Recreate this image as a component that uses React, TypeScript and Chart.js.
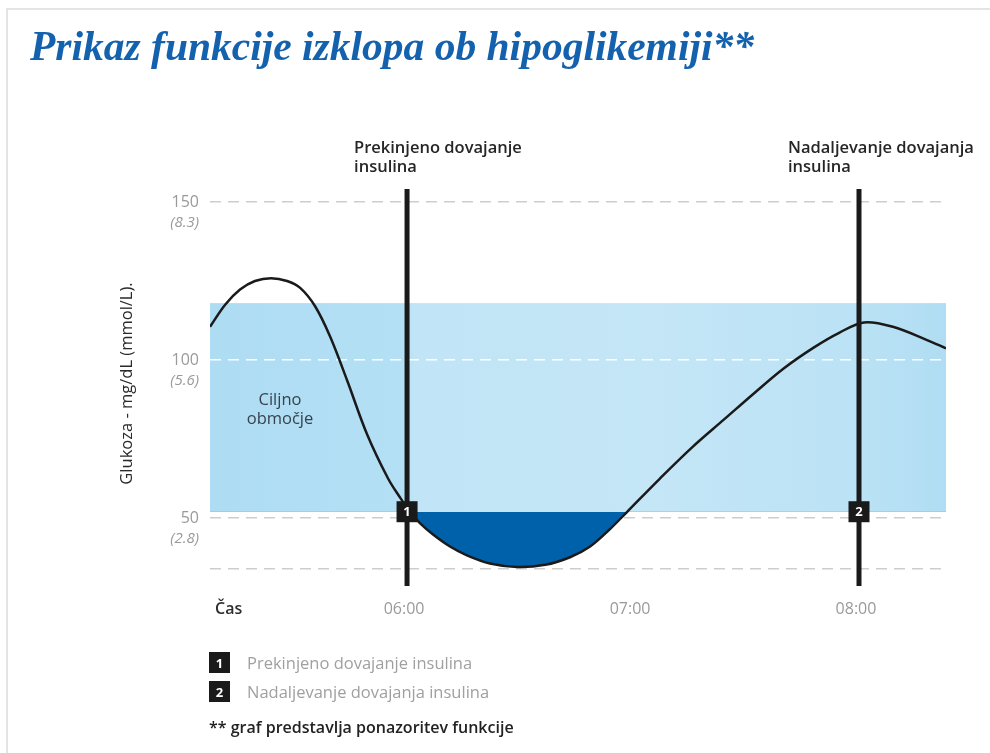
import React, { useEffect, useRef } from 'react';
import { Chart, registerables } from 'chart.js';

Chart.register(...registerables);

// ---- data ----
const timeHours = [5.128, 5.195, 5.261, 5.327, 5.398, 5.469, 5.527, 5.593, 5.659, 5.735, 5.823, 5.916, 5.969, 6.013, 6.058, 6.115, 6.19, 6.265, 6.367, 6.487, 6.611, 6.721, 6.81, 6.898, 6.973, 7.119, 7.265, 7.403, 7.536, 7.668, 7.801, 7.912, 8.022, 8.15, 8.301, 8.385];
const glucose = [110.5, 117.5, 122.3, 125.0, 125.9, 125.0, 122.8, 117.0, 107.5, 93.5, 76.5, 62.5, 56.5, 52.0, 48.3, 44.8, 41.0, 38.2, 35.6, 34.5, 35.2, 37.6, 41.0, 46.5, 51.9, 62.5, 72.6, 81.2, 89.5, 97.4, 104.0, 108.6, 111.9, 110.5, 106.3, 103.7];

const xMin = 5.128;
const xMax = 8.385;
const yMin = 28.5;
const yMax = 154.1;

const gridLevels = [150, 100, 50, 34];
const yTickValues = [150, 100, 50];
const yTickMmol = ['(8.3)', '(5.6)', '(2.8)'];

const xTickValues = [6, 7, 8];
const xTickLabels = ['06:00', '07:00', '08:00'];

const bandLow = 52;
const bandHigh = 118;

const eventTimes = [6, 8];
const eventNumbers = ['1', '2'];
const eventLabels = [
  ['Prekinjeno dovajanje', 'insulina'],
  ['Nadaljevanje dovajanja', 'insulina'],
];
const eventLabelOffsets = [-53, -71];

const FONT = "'Open Sans', 'Noto Sans', sans-serif";

const overlay = {
  id: 'overlay',
  beforeDraw(chart: any) {
    const { ctx, scales } = chart;
    const x = scales.x;
    const y = scales.y;
    const top = y.getPixelForValue(bandHigh);
    const bottom = y.getPixelForValue(bandLow);
    const left = x.getPixelForValue(xMin);
    const right = x.getPixelForValue(xMax);
    const g = ctx.createLinearGradient(left, 0, right, 0);
    g.addColorStop(0, '#aedcf3');
    g.addColorStop(0.26, '#b4e0f5');
    g.addColorStop(0.28, '#c1e5f6');
    g.addColorStop(0.6, '#c4e6f7');
    g.addColorStop(0.88, '#bbe2f5');
    g.addColorStop(1, '#b0ddf3');
    ctx.save();
    ctx.fillStyle = g;
    ctx.fillRect(left, top, right - left, bottom - top);
    ctx.restore();
  },
  afterDatasetsDraw(chart: any) {
    const { ctx, chartArea, scales } = chart;
    const x = scales.x;
    const y = scales.y;
    ctx.save();
    eventTimes.forEach((t, i) => {
      const px = x.getPixelForValue(t);
      ctx.strokeStyle = '#1a1a1a';
      ctx.lineWidth = 5;
      ctx.beginPath();
      ctx.moveTo(px, chartArea.top);
      ctx.lineTo(px, chartArea.bottom);
      ctx.stroke();
      const py = y.getPixelForValue(bandLow);
      ctx.fillStyle = '#1a1a1a';
      ctx.fillRect(px - 10.5, py - 10.5, 21, 21);
      ctx.fillStyle = '#ffffff';
      ctx.font = `bold 13px ${FONT}`;
      ctx.textAlign = 'center';
      ctx.textBaseline = 'middle';
      ctx.fillText(eventNumbers[i], px, py + 1);
    });
    ctx.restore();
  },
  afterDraw(chart: any) {
    const { ctx, chartArea, scales } = chart;
    const x = scales.x;
    const y = scales.y;
    ctx.save();
    // y tick labels
    ctx.textAlign = 'right';
    ctx.textBaseline = 'middle';
    yTickValues.forEach((v, i) => {
      const py = y.getPixelForValue(v);
      ctx.fillStyle = '#9a9a9a';
      ctx.font = `16px ${FONT}`;
      ctx.fillText(String(v), chartArea.left - 11, py);
      ctx.font = `italic 15px ${FONT}`;
      ctx.fillText(yTickMmol[i], chartArea.left - 11, py + 21);
    });
    // x tick labels
    ctx.textAlign = 'center';
    xTickValues.forEach((v, i) => {
      const px = x.getPixelForValue(v);
      ctx.fillStyle = '#9a9a9a';
      ctx.font = `16px ${FONT}`;
      ctx.fillText(xTickLabels[i], px - 3, chartArea.bottom + 23);
    });
    // axis name "Čas"
    ctx.textAlign = 'left';
    ctx.fillStyle = '#2e2e2e';
    ctx.font = `600 16px ${FONT}`;
    ctx.fillText('Čas', chartArea.left + 5, chartArea.bottom + 23);
    // y axis title
    ctx.save();
    ctx.translate(chartArea.left - 83, (chartArea.top + chartArea.bottom) / 2 - 4);
    ctx.rotate(-Math.PI / 2);
    ctx.textAlign = 'center';
    ctx.fillStyle = '#2a2a2a';
    ctx.font = `16.5px ${FONT}`;
    ctx.fillText('Glukoza - mg/dL (mmol/L).', 0, 0);
    ctx.restore();
    // target range label
    ctx.textAlign = 'center';
    ctx.fillStyle = '#36434d';
    ctx.font = `16.5px ${FONT}`;
    const lx = chartArea.left + 70;
    ctx.fillText('Ciljno', lx, 400);
    ctx.fillText('območje', lx, 419);
    // event labels above lines
    ctx.textAlign = 'left';
    ctx.fillStyle = '#262626';
    ctx.font = `600 16.5px ${FONT}`;
    eventTimes.forEach((t, i) => {
      const px = x.getPixelForValue(t) + eventLabelOffsets[i];
      ctx.fillText(eventLabels[i][0], px, chartArea.top - 41);
      ctx.fillText(eventLabels[i][1], px, chartArea.top - 22);
    });
    ctx.restore();
  },
};

function LegendBox({ n }: { n: string }) {
  return (
    <div
      style={{
        width: 21,
        height: 21,
        background: '#1a1a1a',
        color: '#fff',
        fontFamily: FONT,
        fontWeight: 700,
        fontSize: 13,
        display: 'flex',
        alignItems: 'center',
        justifyContent: 'center',
        marginRight: 17,
        flex: '0 0 auto',
      }}
    >
      {n}
    </div>
  );
}

export default function App() {
  const ref = useRef<HTMLCanvasElement>(null);
  useEffect(() => {
    const chart = new Chart(ref.current as HTMLCanvasElement, {
      type: 'line',
      data: {
        datasets: [
          {
            data: timeHours.map((t, i) => ({ x: t, y: glucose[i] })),
            borderColor: '#1a1a1a',
            borderWidth: 2.5,
            pointRadius: 0,
            tension: 0.35,
            fill: { target: { value: bandLow }, above: 'rgba(0,0,0,0)', below: '#0061ab' },
          } as any,
        ],
      },
      options: {
        responsive: false,
        animation: false,
        devicePixelRatio: 1,
        layout: { padding: { left: 210, right: 44, top: 189, bottom: 167 } },
        plugins: { legend: { display: false }, tooltip: { enabled: false }, title: { display: false } },
        scales: {
          x: { type: 'linear', min: xMin, max: xMax, display: false },
          y: {
            type: 'linear',
            min: yMin,
            max: yMax,
            afterBuildTicks: (s: any) => {
              s.ticks = gridLevels.map((v) => ({ value: v }));
            },
            ticks: { display: false },
            grid: {
              drawTicks: false,
              color: (c: any) => (c.tick && c.tick.value === 100 ? '#ffffff' : '#cdcdcd'),
              lineWidth: 1.6,
            },
            border: { display: false, dash: [11, 7] },
          } as any,
        },
      } as any,
      plugins: [overlay],
    });
    return () => chart.destroy();
  }, []);

  return (
    <div style={{ position: 'absolute', left: 0, top: 0, width: 990, height: 753, background: '#fff', overflow: 'hidden' }}>
      <div
        style={{
          position: 'absolute',
          left: 6,
          top: 8,
          right: 0,
          bottom: 0,
          borderLeft: '2px solid #e4e4e4',
          borderTop: '2px solid #e4e4e4',
        }}
      />
      <canvas ref={ref} width={990} height={753} style={{ position: 'absolute', left: 0, top: 0 }} />
      <div
        style={{
          position: 'absolute',
          left: 30,
          top: 18,
          fontFamily: "'Liberation Serif', serif",
          fontStyle: 'italic',
          fontWeight: 700,
          fontSize: 41.5,
          color: '#1462ae',
          whiteSpace: 'nowrap',
          lineHeight: '56px',
        }}
      >
        Prikaz funkcije izklopa ob hipoglikemiji**
      </div>
      <div style={{ position: 'absolute', left: 209, top: 652, fontFamily: FONT }}>
        <div style={{ display: 'flex', alignItems: 'center', height: 21, marginBottom: 8 }}>
          <LegendBox n="1" />
          <span style={{ color: '#a0a0a0', fontSize: 16.5, whiteSpace: 'nowrap' }}>Prekinjeno dovajanje insulina</span>
        </div>
        <div style={{ display: 'flex', alignItems: 'center', height: 21 }}>
          <LegendBox n="2" />
          <span style={{ color: '#a0a0a0', fontSize: 16.5, whiteSpace: 'nowrap' }}>Nadaljevanje dovajanja insulina</span>
        </div>
        <div style={{ marginTop: 14, color: '#222', fontSize: 16, fontWeight: 600, whiteSpace: 'nowrap' }}>
          ** graf predstavlja ponazoritev funkcije
        </div>
      </div>
    </div>
  );
}
